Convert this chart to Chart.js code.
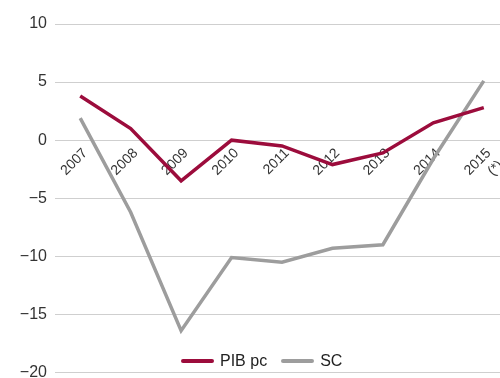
<!DOCTYPE html>
<html>
<head>
<meta charset="utf-8">
<script src="https://cdn.jsdelivr.net/npm/chart.js@4/dist/chart.umd.min.js"></script>
<style>
  html, body { margin: 0; padding: 0; background: #fff; overflow: hidden; }
  #wrap { position: relative; width: 500px; height: 378px; overflow: hidden; }
  #chart { position: absolute; left: 0; top: 0; }
  #legend { position: absolute; left: 181px; top: 352px; display: flex; align-items: center;
            font: 16px "Liberation Sans", Arial, sans-serif; color: #222; }
  #legend .item { display: flex; align-items: center; margin-right: 14px; }
  #legend .swatch { width: 33px; height: 4px; border-radius: 2px; margin-right: 6px; }
</style>
</head>
<body>
<div id="wrap">
  <canvas id="chart" width="509" height="378"></canvas>
  <div id="legend"></div>
</div>
<script>
// Years on the category axis (last one is a provisional estimate)
const years = ['2007', '2008', '2009', '2010', '2011', '2012', '2013', '2014', ['2015', '(*)']];
// Annual variation, %
const pibPc = [3.8, 1.0, -3.5, 0.0, -0.5, -2.1, -1.1, 1.5, 2.8];
const sc = [1.9, -6.2, -16.4, -10.1, -10.5, -9.3, -9.0, -1.6, 5.1];
const yTicks = { min: -20, max: 10, step: 5 };

const FONT = '"Liberation Sans", Arial, sans-serif';

// Builds the legend below the lines from the chart's datasets
const htmlLegend = {
  id: 'htmlLegend',
  afterUpdate(chart) {
    const box = document.getElementById('legend');
    box.innerHTML = '';
    chart.data.datasets.forEach(ds => {
      const item = document.createElement('div');
      item.className = 'item';
      const sw = document.createElement('span');
      sw.className = 'swatch';
      sw.style.background = ds.borderColor;
      const txt = document.createElement('span');
      txt.textContent = ds.label;
      item.appendChild(sw);
      item.appendChild(txt);
      box.appendChild(item);
    });
  }
};

new Chart(document.getElementById('chart'), {
  type: 'line',
  data: {
    labels: years,
    datasets: [
      { label: 'PIB pc', data: pibPc, borderColor: '#9c0c3c', backgroundColor: '#9c0c3c',
        borderWidth: 3.5, pointRadius: 0, tension: 0 },
      { label: 'SC', data: sc, borderColor: '#9d9d9d', backgroundColor: '#9d9d9d',
        borderWidth: 3.5, pointRadius: 0, tension: 0 }
    ]
  },
  plugins: [htmlLegend],
  options: {
    responsive: false,
    animation: false,
    layout: { padding: { top: 24, bottom: 5.5, left: 0, right: 0 } },
    plugins: { legend: { display: false }, tooltip: { enabled: false } },
    scales: {
      x: {
        type: 'category',
        offset: true,
        position: { y: 0 },
        grid: { display: false, drawTicks: false },
        border: { display: false },
        ticks: {
          minRotation: 45, maxRotation: 45, autoSkip: false,
          padding: 5, labelOffset: 5,
          color: '#333', font: { family: FONT, size: 14 }
        },
        afterFit(s) { s.paddingLeft = 0; s.paddingRight = 0; s.paddingTop = 0; s.paddingBottom = 0; }
      },
      y: {
        min: yTicks.min, max: yTicks.max,
        grid: { color: '#cfcfcf', lineWidth: 1, drawTicks: false },
        border: { display: false },
        ticks: {
          stepSize: yTicks.step, padding: 8,
          color: '#333', font: { family: FONT, size: 16 },
          callback: v => (v < 0 ? '\u2212' + Math.abs(v) : String(v))
        },
        afterFit(s) { s.width = 55; s.paddingTop = 0; s.paddingBottom = 0; }
      }
    }
  }
});
</script>
</body>
</html>
